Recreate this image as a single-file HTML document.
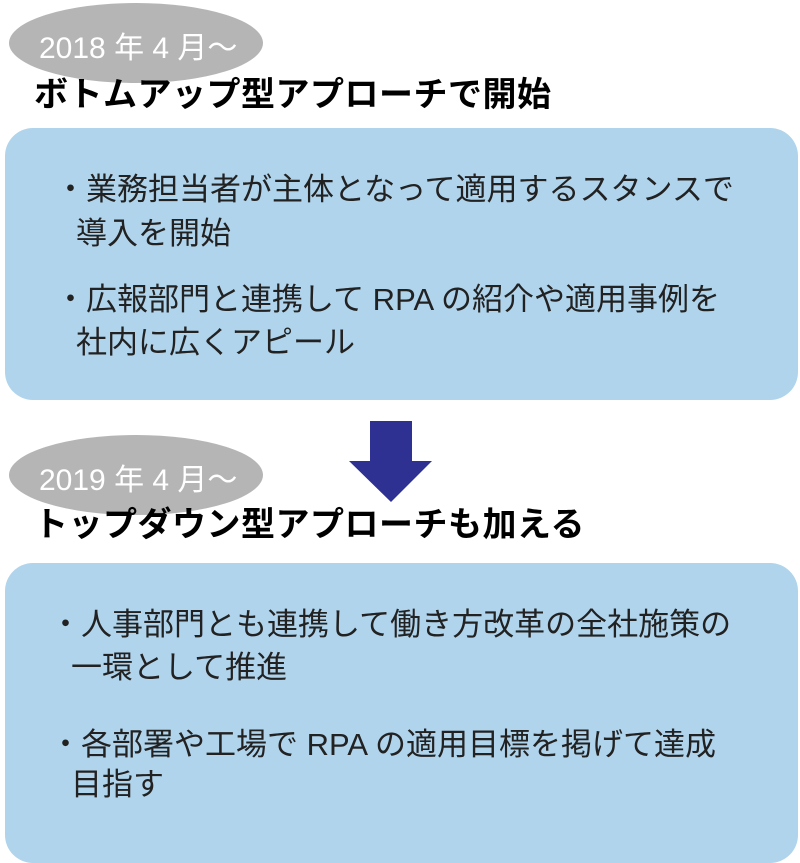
<!DOCTYPE html>
<html><head><meta charset="utf-8"><style>
body{margin:0;width:800px;height:851px;background:#fff;position:relative;overflow:hidden;font-family:"Liberation Sans","Noto Sans CJK JP",sans-serif;}
.ell{position:absolute;left:9px;width:254px;height:80px;border-radius:50%;background:#b5b5b5;}
.ell span{position:absolute;left:30px;top:20px;font-size:30px;color:#fff;white-space:nowrap;}
.title{position:absolute;left:34px;font-size:34px;letter-spacing:0.5px;font-weight:bold;color:#000;white-space:nowrap;line-height:40px;}
.box{position:absolute;left:5px;width:793px;background:#b0d4ec;border-radius:28px;}
.t{position:absolute;font-size:31px;color:#222;white-space:nowrap;line-height:36px;}
</style></head><body>
<div class="ell" style="top:3px"><span>2018 年 4 月～</span></div>
<div class="title" style="top:75px">ボトムアップ型アプローチで開始</div>
<div class="box" style="top:128px;height:272px"></div>
<div class="t" style="left:55px;top:172px">・業務担当者が主体となって適用するスタンスで</div>
<div class="t" style="left:76px;top:216px">導入を開始</div>
<div class="t" style="left:55px;top:282px">・広報部門と連携して RPA の紹介や適用事例を</div>
<div class="t" style="left:76px;top:325px">社内に広くアピール</div>
<svg style="position:absolute;left:0;top:0" width="800" height="851"><polygon points="370,421 412,421 412,461 432,461 391,502 349,461 370,461" fill="#2e3192"/></svg>
<div class="ell" style="top:435px"><span>2019 年 4 月～</span></div>
<div class="title" style="top:505px">トップダウン型アプローチも加える</div>
<div class="box" style="top:563px;height:300px"></div>
<div class="t" style="left:50px;top:607px">・人事部門とも連携して働き方改革の全社施策の</div>
<div class="t" style="left:71px;top:650px">一環として推進</div>
<div class="t" style="left:50px;top:727px">・各部署や工場で RPA の適用目標を掲げて達成</div>
<div class="t" style="left:71px;top:767px">目指す</div>
</body></html>
